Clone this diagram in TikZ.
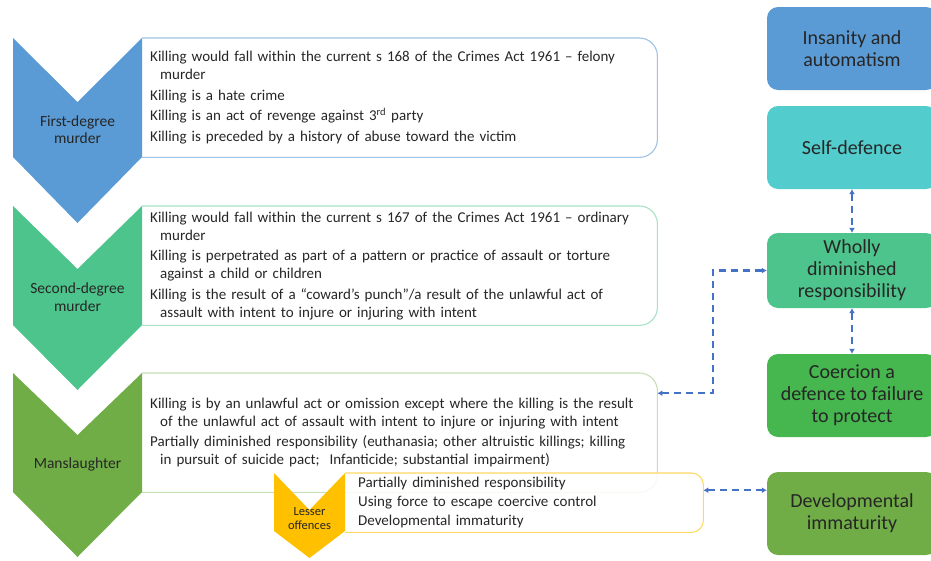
\documentclass[tikz,border=0pt]{standalone}
\usepackage{fontspec}
\setmainfont{Carlito}
\usetikzlibrary{arrows.meta, positioning}
\definecolor{chevBlue}{HTML}{5B9BD5}
\definecolor{chevGreen}{HTML}{4DC48C}
\definecolor{chevOlive}{HTML}{70AD47}
\definecolor{chevGold}{HTML}{FFC000}
\definecolor{defTeal}{HTML}{52CCCC}
\definecolor{defGreen}{HTML}{45B74E}
\definecolor{linkBlue}{HTML}{4472C4}
\definecolor{textDark}{HTML}{262626}
\definecolor{frameBlue}{HTML}{9DC3E6}
\definecolor{frameGreen}{HTML}{A8E2C5}
\definecolor{frameOlive}{HTML}{C5E0B4}
\definecolor{frameGold}{HTML}{FFD966}
\hyphenpenalty=10000

\begin{document}
\begin{tikzpicture}[x=1pt, y=-1pt,
    textbox/.style={anchor=north west, inner xsep=8pt, inner ysep=0pt,
      text width=499pt, minimum height=119pt, align=left, text=textDark,
      font=\fontsize{15}{18}\selectfont},
    frame/.style={line width=1.1pt, rounded corners=18pt},
    chevlabel/.style={align=center, text=textDark,
      font=\fontsize{15.5}{17.5}\selectfont},
    defbox/.style={rounded corners=11pt, minimum width=170pt,
      minimum height=83pt, align=center, text=textDark,
      font=\fontsize{20}{22}\selectfont},
    link/.style={linkBlue, line width=2.2pt, dash pattern=on 7pt off 5pt,
      {Latex[length=5pt,width=6pt]}-{Latex[length=5pt,width=6pt]}}]
    \useasboundingbox (0,0) rectangle (931,560);

    % cuadros de texto
    \node[textbox] (first) at (142,38)
      {Killing would fall within the current s 168 of the Crimes Act 1961 – felony\\
       \hspace*{10pt}murder\\[2.5pt]
       Killing is a hate crime\\[2.5pt]
       Killing is an act of revenge against 3\textsuperscript{rd} party\\[2.5pt]
       Killing is preceded by a history of abuse toward the victim};
    \draw[frame, frameBlue] (first.south west) -- (first.south east)
      -- (first.north east) -- (first.north west);

    \node[textbox] (second) at (142,206)
      {Killing would fall within the current s 167 of the Crimes Act 1961 – ordinary\\
       \hspace*{10pt}murder\\[2.5pt]
       Killing is perpetrated as part of a pattern or practice of assault or torture\\
       \hspace*{10pt}against a child or children\\[2.5pt]
       Killing is the result of a “coward’s punch”/a result of the unlawful act of\\
       \hspace*{10pt}assault with intent to injure or injuring with intent};
    \draw[frame, frameGreen] (second.south west) -- (second.south east)
      -- (second.north east) -- (second.north west);

    \node[textbox] (third) at (142,373)
      {Killing is by an unlawful act or omission except where the killing is the result\\
       \hspace*{10pt}of the unlawful act of assault with intent to injure or injuring with intent\\[2.5pt]
       Partially diminished responsibility (euthanasia; other altruistic killings; killing\\
       \hspace*{10pt}in pursuit of suicide pact;\ \ Infanticide; substantial impairment)};
    \draw[frame, frameOlive] (third.south west) -- (third.south east)
      -- (third.north east) -- (third.north west);

    % cheurones
    \fill[chevBlue] (13,38) -- (77.5,102) -- (142,38) -- (142,157)
      -- (77.5,223) -- (13,157) -- cycle;
    \node[chevlabel] (firstlab) at (77.5,129.5) {First-degree\\murder};

    \fill[chevGreen] (13,206) -- (77.5,269) -- (142,206) -- (142,325)
      -- (77.5,390) -- (13,325) -- cycle;
    \node[chevlabel] (secondlab) at (77.5,297) {Second-degree\\murder};

    \fill[chevOlive] (13,373) -- (77.5,435) -- (142,373) -- (142,492)
      -- (77.5,557) -- (13,492) -- cycle;
    \node[chevlabel] (thirdlab) at (77.5,464) {Manslaughter};

    % delitos menores
    \node[textbox, inner xsep=13pt, text width=332pt, minimum height=59pt,
      font=\fontsize{15}{19}\selectfont, fill=white, fill opacity=0.85,
      text opacity=1] (lesser) at (345,473)
      {Partially diminished responsibility\\
       Using force to escape coercive control\\
       Developmental immaturity};
    \draw[frame, frameGold, rounded corners=12pt] (lesser.south west)
      -- (lesser.south east) -- (lesser.north east) -- (lesser.north west);
    \fill[chevGold] (274,473) -- (309.5,510) -- (345,473) -- (345,531)
      -- (309.5,558) -- (274,531) -- cycle;
    \node[chevlabel, font=\fontsize{12.5}{14}\selectfont] (lesserlab)
      at (309.5,519) {Lesser\\offences};

    % defensas
    \node[defbox, fill=chevBlue] (insanity) at (852,48.5)
      {Insanity and\\automatism};
    \node[defbox, fill=defTeal] (selfdef) at (852,147.5) {Self-defence};
    \node[defbox, fill=chevGreen, minimum height=75pt] (wholly) at (852,270.5)
      {Wholly\\diminished\\responsibility};
    \node[defbox, fill=defGreen] (coercion) at (852,395.5)
      {Coercion a\\defence to failure\\to protect};
    \node[defbox, fill=chevOlive] (devel) at (852,513.5)
      {Developmental\\immaturity};

    % enlaces
    \draw[link] (selfdef.south) -- (wholly.north);
    \draw[link] (wholly.south) -- (coercion.north);
    \draw[link] (wholly.west) -- ++(-54,0) |- ([yshift=39.5pt]third.east);
    \draw[link] ([yshift=12.5pt]lesser.east) -- ([yshift=12.5pt]lesser.east -| devel.west);
  \end{tikzpicture}
\end{document}
